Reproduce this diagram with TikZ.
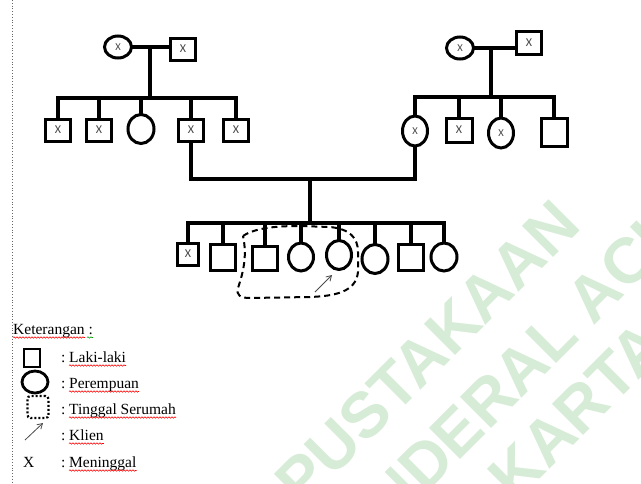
\documentclass[tikz,border=0pt]{standalone}
\usepackage{fontspec}
\setmainfont{Liberation Serif}
\newfontfamily\xfont{Carlito}
\newfontfamily\wmfont{Liberation Sans}
\usetikzlibrary{shapes.geometric,decorations.pathmorphing,arrows.meta,calc}
\definecolor{wm}{RGB}{214,236,214}
\definecolor{xg}{RGB}{70,70,70}
\begin{document}
\begin{tikzpicture}[x=1pt,y=-1pt,
  ln/.style={line width=3.2pt,line cap=rect},
  male/.style={draw,rectangle,line width=3pt,fill=white,inner sep=0pt,minimum width=25pt,minimum height=22pt},
  female/.style={draw,ellipse,line width=3pt,fill=white,inner sep=0pt,minimum width=26pt,minimum height=29pt},
  xs/.style={font=\xfont\fontsize{12}{12}\selectfont,text=xg},
  xc/.style={font=\xfont\fontsize{10.5}{10.5}\selectfont,text=xg},
  wmtext/.style={font=\wmfont\bfseries\fontsize{64}{64}\selectfont,text=wm,inner sep=0pt,anchor=base west,rotate=45},
  lg/.style={font=\fontsize{15.5}{18}\selectfont,inner sep=0pt,anchor=base west},
  wavy/.style={decorate,decoration={snake,amplitude=0.7pt,segment length=3pt},line width=0.6pt},
  loop/.style={line width=2pt,dash pattern=on 6pt off 4pt},
  klien/.style={line width=0.8pt,draw=black!70,-{Straight Barb[length=5pt,width=6pt]}}]
\useasboundingbox (0,0) rectangle (641,483);
\fill[white] (0,0) rectangle (641,483);
% watermark
\begin{scope}
\clip (0,0) rectangle (641,483);
\node[wmtext] (w1) at (209,602) {PERPUSTAKAAN};
\node[wmtext] (w2) at (337,583) {JENDERAL ACHMAD};
\node[wmtext] (w3) at (356,663) {YOGYAKARTA};
\end{scope}
% page margin line
\coordinate (pt) at (12,0);
\coordinate (pb) at (12,483);
\draw[black!60,dotted,line width=0.8pt] (pt) -- (pb);
% helper levels
\coordinate (L1) at (0,98);
\coordinate (L2) at (0,97);
\coordinate (L3) at (0,223);
\coordinate (M) at (310,179);
% dashed household
\draw[loop] (243,236) .. controls (255,228) and (275,226) .. (300,226)
  -- (330,227) .. controls (350,229) and (358,238) .. (358,252)
  -- (358,272) .. controls (356,292) and (335,296) .. (310,297)
  -- (250,298) .. controls (240,298) and (236,295) .. (238,288)
  .. controls (244,270) and (247,255) .. (243,236);
% generation 1
\node[female,minimum width=27pt,minimum height=22pt,xc] (f1) at (118,47) {X};
\node[male,xs] (m1) at (183,49) {X};
\node[female,minimum width=27pt,minimum height=22pt,xc] (f2) at (460,48) {X};
\node[male,minimum height=23pt,xs] (m2) at (529,43) {X};
% generation 2 left
\node[male,xs] (s1) at (58,130) {X};
\node[male,xs] (s2) at (99,130) {X};
\node[female] (d3) at (141,129) {};
\node[male,xs] (s4) at (191,130) {X};
\node[male,xs] (s5) at (236,130) {X};
% generation 2 right
\node[female,minimum width=25pt,minimum height=30pt,xc] (r1) at (415,131) {X};
\node[male,minimum width=26pt,minimum height=24pt,xs] (r2) at (459,130) {X};
\node[female,minimum width=25pt,minimum height=30pt,xc] (r3) at (501,133) {X};
\node[male,minimum width=26pt,minimum height=28pt] (r4) at (554,132) {};
% generation 3
\node[male,minimum width=21pt,minimum height=22pt,xs] (c1) at (188,254) {X};
\node[male,minimum height=26pt] (c2) at (223,257) {};
\node[male,minimum height=24pt] (c3) at (265,258) {};
\node[female,minimum width=25pt,minimum height=28pt] (c4) at (301,257) {};
\node[female,minimum width=25pt,minimum height=29pt] (c5) at (339,255) {};
\node[female,minimum width=26pt,minimum height=29pt] (c6) at (375,259) {};
\node[male,minimum height=26pt] (c7) at (411,257) {};
\node[female,minimum height=28pt] (c8) at (444,257) {};
% couple lines
\draw[ln] (f1.east) -- (f1.east -| m1.west);
\coordinate (k1) at ($(f1.east)!0.47!(f1.east -| m1.west)$);
\draw[ln] (k1) -- (k1 |- L1);
\draw[ln] (f2.east) -- (f2.east -| m2.west);
\coordinate (k2) at ($(f2.east)!0.4!(f2.east -| m2.west)$);
\draw[ln] (k2) -- (k2 |- L2);
% sibling lines
\draw[ln] (s1.north |- L1) -- (s5.north |- L1);
\foreach \n in {s1,s2,d3,s4,s5} \draw[ln] (\n.north) -- (\n.north |- L1);
\draw[ln] (r1.north |- L2) -- (r4.north |- L2);
\foreach \n in {r1,r2,r3,r4} \draw[ln] (\n.north) -- (\n.north |- L2);
% marriage
\draw[ln] (s4.south) |- (M) -| (r1.south);
\draw[ln] (M) -- (M |- L3);
\draw[ln] (c1.north |- L3) -- (c8.north |- L3);
\foreach \n in {c1,c2,c3,c4,c5,c6,c7,c8} \draw[ln] (\n.north) -- (\n.north |- L3);
% client arrow
\coordinate (pa) at (315,292);
\coordinate (pb) at (332,275);
\draw[klien] (pa) -- (pb);
% legend
\node[lg] (ket) at (13,334) {Keterangan :};
\draw[wavy,red] ([yshift=-3.5pt]ket.base west) -- ([xshift=-8pt,yshift=-3.5pt]ket.base east);
\draw[wavy,green!60!black] ([xshift=-6pt,yshift=-3.5pt]ket.base east) -- ([yshift=-3.5pt]ket.base east);
\node[male,line width=2.8pt,minimum width=16pt,minimum height=18pt] (lm) at (32,358) {};
\node[female,line width=2.8pt,minimum width=26pt,minimum height=22pt] (lf) at (35,382) {};
\node[draw,line width=2.2pt,dash pattern=on 2pt off 2pt,rounded corners=3pt,minimum width=21pt,minimum height=22pt] (ld) at (38,407) {};
\coordinate (la) at (25,440);
\coordinate (lb) at (43,423);
\draw[klien] (la) -- (lb);
\node[lg] (lx) at (23,467) {X};
\node[lg] (c1c) at (61,362) {:};
\node[lg] (t1) at (69,362) {Laki-laki};
\node[lg] (c2c) at (61,388) {:};
\node[lg] (t2) at (69,388) {Perempuan};
\node[lg] (c3c) at (61,414) {:};
\node[lg] (t3) at (69,414) {Tinggal Serumah};
\node[lg] (c4c) at (61,440) {:};
\node[lg] (t4) at (69,440) {Klien};
\node[lg] (c5c) at (61,467) {:};
\node[lg] (t5) at (69,467) {Meninggal};
\foreach \t in {t1,t2,t3,t4,t5}
  \draw[wavy,red] ([yshift=-3.5pt]\t.base west) -- ([yshift=-3.5pt]\t.base east);
\end{tikzpicture}
\end{document}
